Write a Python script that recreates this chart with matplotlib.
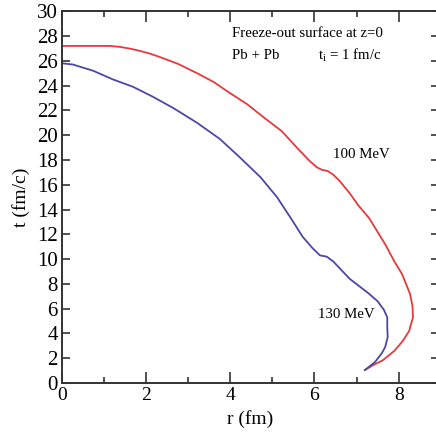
import matplotlib
matplotlib.use('Agg')
import matplotlib.pyplot as plt
from matplotlib.ticker import MultipleLocator

# Freeze-out surfaces
r_100 = [0, 0.6, 1.14, 1.38, 1.62, 1.85, 2.09, 2.33, 2.76, 3.21, 3.6, 3.99,
         4.4, 4.77, 5.23, 5.58, 5.89, 6.06, 6.18, 6.32, 6.45, 6.6, 6.84, 7.05,
         7.3, 7.68, 7.9, 8.08, 8.27, 8.33, 8.34, 8.25, 8.1, 7.9, 7.63, 7.4, 7.2]
t_100 = [27.2, 27.2, 27.2, 27.12, 26.98, 26.8, 26.58, 26.3, 25.75, 25.0, 24.3, 23.4,
         22.5, 21.5, 20.3, 19.0, 17.9, 17.4, 17.2, 17.1, 16.8, 16.3, 15.3, 14.3,
         13.3, 11.2, 9.8, 8.8, 7.2, 6.2, 5.3, 4.2, 3.4, 2.6, 1.85, 1.45, 1.05]

r_130 = [0, 0.26, 0.74, 1.21, 1.69, 2.16, 2.64, 3.21, 3.75, 4.23, 4.72, 5.11,
         5.42, 5.72, 5.95, 6.13, 6.29, 6.45, 6.56, 6.84, 7.28, 7.5, 7.65, 7.73,
         7.73, 7.74, 7.68, 7.6, 7.44, 7.2]
t_130 = [25.8, 25.7, 25.2, 24.5, 23.9, 23.1, 22.2, 21.0, 19.7, 18.2, 16.6, 15.0,
         13.4, 11.8, 10.9, 10.3, 10.2, 9.8, 9.4, 8.4, 7.25, 6.6, 5.9, 5.3,
         4.5, 3.7, 2.9, 2.4, 1.7, 1.05]

plt.rcParams['font.family'] = ['Liberation Serif', 'DejaVu Serif']
plt.rcParams['mathtext.fontset'] = 'custom'
plt.rcParams['mathtext.rm'] = 'Liberation Serif'

fig = plt.figure(figsize=(4.36, 4.40), dpi=100)
ax = fig.add_axes([0.142, 0.1295, 0.864, 0.845])

ax.plot(r_100, t_100, color='#e63a3c', lw=1.3, solid_joinstyle='round')
ax.plot(r_130, t_130, color='#4b47a6', lw=1.3, solid_joinstyle='round')

ax.set_xlim(0, 8.95)
ax.set_ylim(0, 30)
ax.xaxis.set_major_locator(MultipleLocator(2))
ax.xaxis.set_minor_locator(MultipleLocator(1))
ax.yaxis.set_major_locator(MultipleLocator(2))

for s in ax.spines.values():
    s.set_linewidth(1.4)
    s.set_color('#333333')

ax.tick_params(axis='both', which='major', direction='in', top=True, right=True,
               color='#333333', width=1.2)
ax.tick_params(axis='x', which='major', length=8, labelsize=14, pad=3)
ax.tick_params(axis='x', which='minor', direction='in', top=True, length=4,
               width=1.2, color='#333333')
ax.tick_params(axis='y', which='major', length=6, labelsize=15, pad=3)

ax.set_xlabel('r (fm)', fontsize=14, labelpad=4)
ax.set_ylabel('t (fm/c)', fontsize=14, labelpad=5)

ax.text(4.04, 28.2, 'Freeze-out surface at z=0', fontsize=10.7, va='center')
ax.text(4.04, 26.45, 'Pb + Pb', fontsize=10.7, va='center')
ax.text(6.08, 26.45, 't$_\\mathregular{i}$ = 1 fm/c', fontsize=10.7, va='center')
ax.text(6.44, 18.4, '100 MeV', fontsize=10.7, va='center')
ax.text(6.08, 5.5, '130 MeV', fontsize=10.7, va='center')

fig.savefig('out.png', dpi=100)
